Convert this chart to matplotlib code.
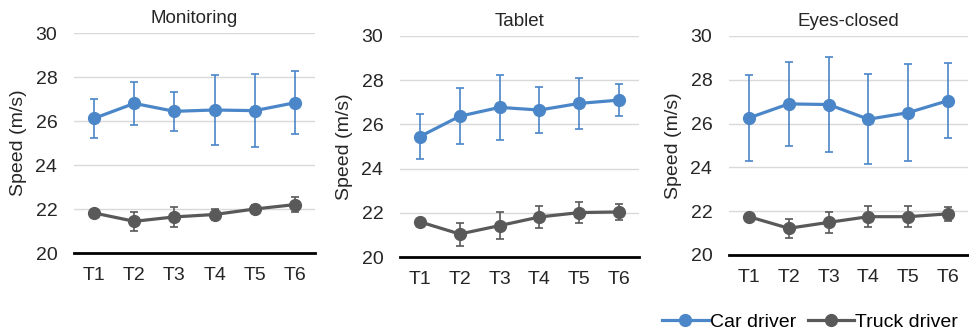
import matplotlib.pyplot as plt
from matplotlib.lines import Line2D
import numpy as np

plt.rcParams['font.family'] = ['Liberation Sans', 'DejaVu Sans']

times = ['T1', 'T2', 'T3', 'T4', 'T5', 'T6']
panels = ['Monitoring', 'Tablet', 'Eyes-closed']

# mean speed and error (m/s) per panel
car_mean = [[26.12, 26.80, 26.44, 26.50, 26.47, 26.83],
            [25.45, 26.37, 26.77, 26.65, 26.95, 27.10],
            [26.26, 26.90, 26.87, 26.20, 26.50, 27.05]]
car_err = [[0.88, 0.99, 0.88, 1.60, 1.65, 1.43],
           [1.03, 1.27, 1.48, 1.04, 1.14, 0.74],
           [1.95, 1.92, 2.15, 2.05, 2.23, 1.70]]
truck_mean = [[21.82, 21.44, 21.64, 21.75, 22.00, 22.20],
              [21.59, 21.04, 21.42, 21.81, 22.01, 22.04],
              [21.75, 21.22, 21.49, 21.75, 21.75, 21.88]]
truck_err = [[0.10, 0.44, 0.47, 0.27, 0.20, 0.33],
             [0.05, 0.52, 0.60, 0.52, 0.46, 0.35],
             [0.05, 0.43, 0.48, 0.48, 0.48, 0.33]]

car_color = '#4a86c8'
truck_color = '#595959'

fig = plt.figure(figsize=(9.7, 3.32), dpi=100)
W, H = 970, 332
boxes = [(74, 315, 33, 253), (400, 639, 36, 257), (729, 968, 36, 255)]

x = np.arange(len(times))
for i, name in enumerate(panels):
    l, r, t, b = boxes[i]
    ax = fig.add_axes([l / W, 1 - b / H, (r - l) / W, (b - t) / H])
    for mean, err, col in [(car_mean[i], car_err[i], car_color),
                           (truck_mean[i], truck_err[i], truck_color)]:
        ax.errorbar(x, mean, yerr=err, color=col, marker='o', markersize=8.5,
                    linewidth=2.3, elinewidth=1.2, capsize=2.8, capthick=1.2,
                    zorder=3)
    ax.set_xlim(-0.5, 5.5)
    ax.set_ylim(20, 30)
    ax.set_yticks([20, 22, 24, 26, 28, 30])
    ax.set_xticks(x)
    ax.set_xticklabels(times)
    ax.grid(axis='y', color='#d9d9d9', linewidth=1)
    ax.set_axisbelow(True)
    for s in ['top', 'right', 'left']:
        ax.spines[s].set_visible(False)
    ax.spines['bottom'].set_color('black')
    ax.spines['bottom'].set_linewidth(2)
    ax.spines['bottom'].set_zorder(4)
    ax.tick_params(length=0, labelsize=14, colors='#262626')
    ax.tick_params(axis='y', pad=12)
    ax.tick_params(axis='x', pad=10)
    ax.set_ylabel('Speed (m/s)', fontsize=14, color='#262626', labelpad=6)
    ax.set_title(name, fontsize=13.5, color='#262626', pad=7)

handles = [Line2D([], [], color=car_color, marker='o', markersize=8.5, linewidth=2.3),
           Line2D([], [], color=truck_color, marker='o', markersize=8.5, linewidth=2.3)]
fig.legend(handles, ['Car driver', 'Truck driver'], loc='center',
           bbox_to_anchor=(810 / W, 1 - 322 / H),
           ncol=2, frameon=False, fontsize=14, handlelength=2.4,
           handletextpad=0.05, columnspacing=0.6, borderaxespad=0)

fig.savefig('out.png', dpi=100, facecolor='white')
